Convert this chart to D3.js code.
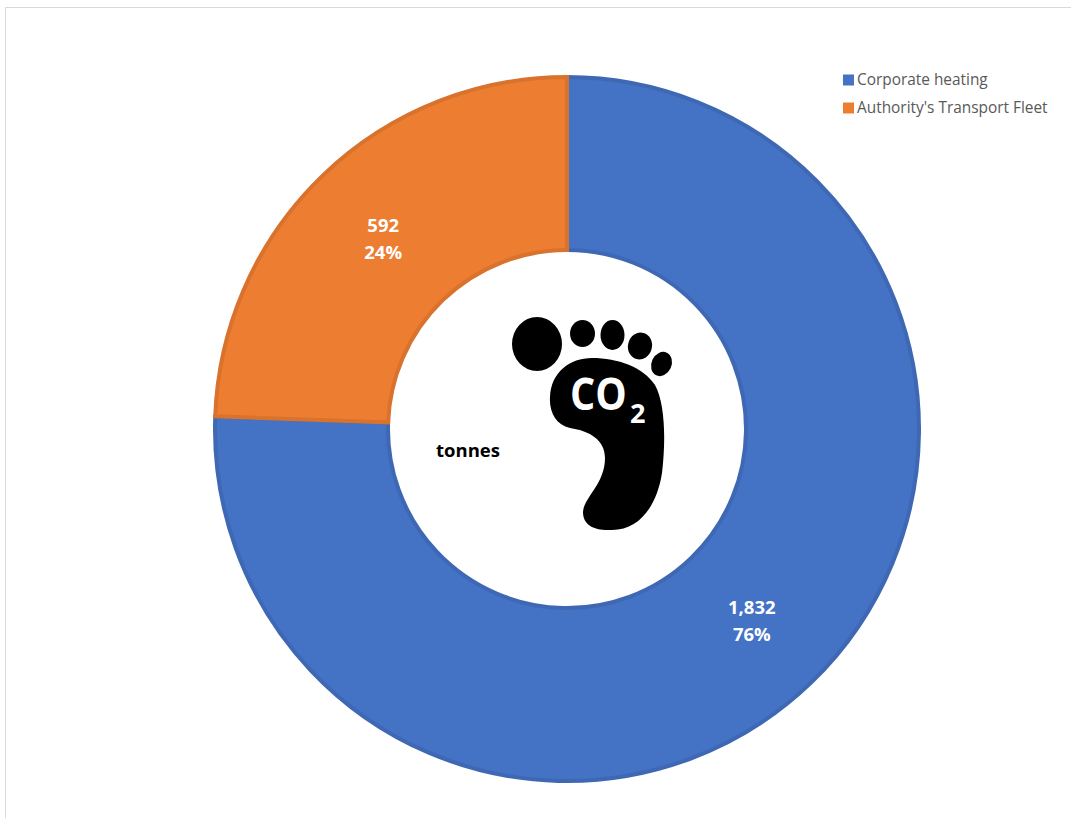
<!DOCTYPE html>
<html>
<head>
<meta charset="utf-8">
<script src="https://cdnjs.cloudflare.com/ajax/libs/d3/7.8.5/d3.min.js"></script>
<style>
html,body{margin:0;padding:0;background:#fff;overflow:hidden}
svg{display:block}
text{font-family:"Open Sans","Noto Sans",sans-serif}
</style>
</head>
<body>
<svg id="chart" width="1071" height="818"></svg>
<script>
// Emissions by source, in tonnes of CO2
const categories = ["Corporate heating", "Authority's Transport Fleet"];
const tonnes = [1832, 592];
const shareLabels = ["76%", "24%"];
const fills = ["#4472c4", "#ed7d31"];
const edges = ["#3f68b4", "#d9722d"];

const svg = d3.select("#chart");

// Frame of the chart area
svg.append("path").attr("d", "M5.5,818V7.5H1071").attr("fill", "none").attr("stroke", "#d9d9d9");

const cx = 567, cy = 429, outer = 352, inner = 179;
const pie = d3.pie().sort(null).value(d => d);
const arc = d3.arc().innerRadius(inner).outerRadius(outer);
const ring = svg.append("g").attr("transform", `translate(${cx},${cy})`);
const arcs = pie(tonnes);

ring.selectAll("path").data(arcs).join("path")
  .attr("d", arc)
  .attr("fill", (d, i) => fills[i])
  .attr("stroke", (d, i) => edges[i])
  .attr("stroke-width", 4);

// Value and share, stacked on each slice's centroid
const fmt = d3.format(",");
arcs.forEach((d, i) => {
  const [x, y] = arc.centroid(d);
  const t = ring.append("text")
    .attr("text-anchor", "middle").attr("fill", "#fff")
    .attr("font-size", 18.5).attr("font-weight", 700);
  t.append("tspan").attr("x", x + 0.5).attr("y", y - 6).text(fmt(d.value));
  t.append("tspan").attr("x", x + 0.5).attr("y", y + 21).text(shareLabels[i]);
});

// Legend
const legend = svg.append("g");
const legendY = d3.scalePoint().domain(categories).range([80, 108]);
categories.forEach((c, i) => {
  legend.append("rect").attr("x", 843).attr("y", legendY(c) - 5.5)
    .attr("width", 11).attr("height", 11).attr("fill", fills[i]);
  legend.append("text").attr("x", 857).attr("y", legendY(c) + 5)
    .attr("font-size", 15.4).attr("fill", "#595959").text(c);
});

// Unit label in the hole
svg.append("text").attr("x", 468).attr("y", 457).attr("text-anchor", "middle")
  .attr("font-size", 18.5).attr("font-weight", 700).attr("fill", "#000").text("tonnes");

// Footprint emblem
const foot = svg.append("g").attr("fill", "#000");
[[537, 344, 25, 27, 0], [582.5, 333.5, 12.5, 13.5, 0], [612.5, 335, 12, 15, 0],
 [640, 346, 12, 13.5, 15], [661.5, 364, 10, 12.5, 25]].forEach(([x, y, rx, ry, r]) => {
  foot.append("ellipse").attr("rx", rx).attr("ry", ry)
    .attr("transform", `translate(${x},${y}) rotate(${r})`);
});
foot.append("path").attr("d",
  "M550,397 C551,372 570,358 592,358 C618,358 643,367 655,385 " +
  "C665,403 666,440 662,473 C657,505 640,530 612,530 " +
  "C594,531 583,525 583,512 C584,497 605,484 605,458 " +
  "C605,440 590,431 570,428 C556,425 549,412 550,397 Z");

// CO2: narrowed capitals with the 2 set beside them as a subscript
foot.append("text").attr("transform", "translate(570,410) scale(0.9,1)")
  .attr("font-size", 44).attr("font-weight", 700).attr("fill", "#fff").text("CO");
foot.append("text").attr("x", 630).attr("y", 423)
  .attr("font-size", 27).attr("font-weight", 700).attr("fill", "#fff").text("2");
</script>
</body>
</html>
